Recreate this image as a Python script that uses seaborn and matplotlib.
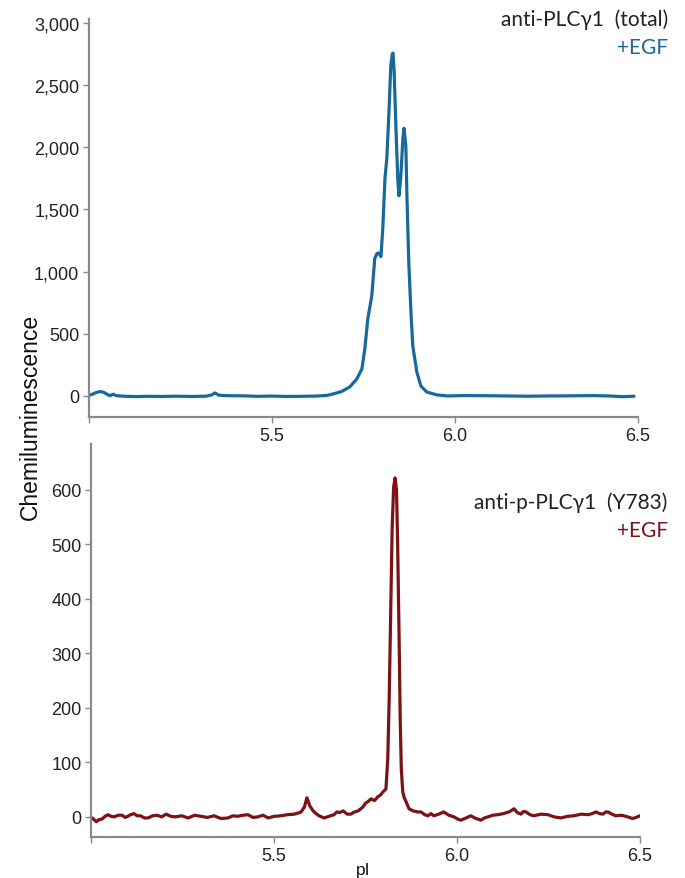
import matplotlib
matplotlib.use("Agg")
import matplotlib.pyplot as plt
import matplotlib.ticker as mticker
import seaborn as sns

# top trace: anti-PLCg1 (total), +EGF
total_pi = [5.000, 5.010, 5.020, 5.030, 5.040, 5.050, 5.057, 5.066, 5.075, 5.100,
            5.130, 5.160, 5.200, 5.240, 5.280, 5.320, 5.335, 5.344, 5.355, 5.380,
            5.420, 5.460, 5.500, 5.540, 5.580, 5.620, 5.650, 5.667, 5.690, 5.713,
            5.732, 5.746, 5.754, 5.762, 5.773, 5.781, 5.787, 5.792, 5.798, 5.803,
            5.809, 5.814, 5.820, 5.825, 5.829, 5.831, 5.834, 5.839, 5.844, 5.847,
            5.852, 5.858, 5.861, 5.866, 5.869, 5.874, 5.880, 5.885, 5.896, 5.907,
            5.923, 5.951, 5.980, 6.020, 6.080, 6.140, 6.200, 6.260, 6.320, 6.380,
            6.420, 6.460, 6.490]
total_signal = [5, 15, 28, 35, 30, 12, 2, 14, 2, -3,
                -5, -3, -4, -2, -4, -2, 8, 24, 6, 2,
                1, -3, -1, -4, -3, -1, 4, 16, 35, 73,
                137, 218, 380, 620, 806, 1105, 1145, 1150, 1120, 1347,
                1750, 1911, 2290, 2661, 2750, 2758, 2613, 2153, 1750, 1610,
                1750, 2073, 2153, 2016, 1613, 1080, 677, 403, 194, 81,
                32, 8, 0, 3, 2, 0, -2, 0, 1, 3,
                0, -6, -2]

# bottom trace: anti-p-PLCg1 (Y783), +EGF
phospho_pi = [5.003, 5.008, 5.014, 5.022, 5.030, 5.038, 5.046, 5.055, 5.063, 5.074,
              5.085, 5.093, 5.100, 5.108, 5.117, 5.126, 5.135, 5.146, 5.156, 5.168,
              5.180, 5.193, 5.205, 5.218, 5.230, 5.248, 5.265, 5.283, 5.300, 5.318,
              5.336, 5.355, 5.374, 5.388, 5.400, 5.415, 5.429, 5.442, 5.455, 5.470,
              5.484, 5.500, 5.519, 5.537, 5.555, 5.566, 5.574, 5.583, 5.590, 5.598,
              5.607, 5.615, 5.623, 5.630, 5.637, 5.650, 5.664, 5.672, 5.680, 5.689,
              5.700, 5.710, 5.720, 5.730, 5.743, 5.750, 5.757, 5.765, 5.775, 5.784,
              5.791, 5.798, 5.806, 5.811, 5.815, 5.819, 5.823, 5.827, 5.831, 5.835,
              5.838, 5.842, 5.845, 5.848, 5.852, 5.856, 5.861, 5.869, 5.880, 5.893,
              5.902, 5.912, 5.921, 5.929, 5.937, 5.950, 5.964, 5.978, 5.992, 6.002,
              6.011, 6.025, 6.038, 6.052, 6.066, 6.075, 6.085, 6.098, 6.112, 6.127,
              6.142, 6.150, 6.156, 6.165, 6.175, 6.182, 6.189, 6.200, 6.210, 6.230,
              6.249, 6.266, 6.284, 6.302, 6.320, 6.340, 6.358, 6.370, 6.380, 6.390,
              6.399, 6.407, 6.413, 6.424, 6.434, 6.450, 6.467, 6.480, 6.490, 6.500]
phospho_signal = [-2, -5, -9, -5, -4, 1, 4, 1, 0, 3,
                  3, -1, 1, 4, 6, 2, 2, -2, -2, 2,
                  3, 0, 5, 1, 0, 2, -2, 3, 1, -1,
                  2, -3, -2, 2, 1, 3, 4, -1, 0, 3,
                  -2, 1, 2, 4, 5, 7, 9, 18, 35, 20,
                  11, 6, 2, 0, -2, 1, 4, 9, 8, 11,
                  5, 5, 9, 11, 18, 25, 28, 33, 30, 37,
                  40, 46, 51, 106, 220, 380, 530, 605, 622, 600,
                  500, 330, 180, 88, 46, 35, 28, 15, 11, 9,
                  9, 4, 2, 6, 2, 5, 9, 3, 0, -4,
                  -6, -2, 2, -3, -6, -2, 0, 3, 4, 6,
                  9, 12, 15, 8, 5, 10, 9, 4, 2, 5,
                  4, 0, -2, 1, 2, 5, 4, 6, 9, 6,
                  5, 9, 9, 5, 2, 3, 0, -3, -1, 2]

x_ticks = [5.0, 5.5, 6.0, 6.5]
x_tick_labels = ["", "5.5", "6.0", "6.5"]
top_y_ticks = [0, 500, 1000, 1500, 2000, 2500, 3000]
bottom_y_ticks = [0, 100, 200, 300, 400, 500, 600]

blue = "#17699a"
maroon = "#7b1215"
spine_grey = "#8a8a8a"

sns.set_style("white")
plt.rcParams["font.family"] = ["Liberation Sans", "DejaVu Sans"]

fig = plt.figure(figsize=(6.85, 8.79), dpi=100)
ax1 = fig.add_axes([0.130, 0.5245, 0.801, 0.4528])
ax2 = fig.add_axes([0.133, 0.0466, 0.801, 0.4470])

sns.lineplot(x=total_pi, y=total_signal, ax=ax1, color=blue, linewidth=2.3, estimator=None)
sns.lineplot(x=phospho_pi, y=phospho_signal, ax=ax2, color=maroon, linewidth=2.3, estimator=None)

ax1.set_ylim(-169, 3032)
ax2.set_ylim(-37, 684)
ax1.set_yticks(top_y_ticks)
ax2.set_yticks(bottom_y_ticks)
ax1.yaxis.set_major_formatter(mticker.StrMethodFormatter("{x:,.0f}"))

for ax in (ax1, ax2):
    ax.set_xlim(5.0, 6.5)
    ax.set_xticks(x_ticks)
    ax.set_xticklabels(x_tick_labels)
    for side in ("top", "right"):
        ax.spines[side].set_visible(False)
    for side in ("left", "bottom"):
        ax.spines[side].set_color(spine_grey)
        ax.spines[side].set_linewidth(1.6)
    ax.tick_params(axis="both", which="major", direction="out", length=4, width=1,
                   color=spine_grey, labelsize=13, labelcolor="#222222", pad=3,
                   left=True, bottom=True)
    ax.set_xlabel("")
    ax.set_ylabel("")

ann_font = ["Lato", "DejaVu Sans"]
ann_x = 0.975
fig.text(ann_x, 1 - 20 / 879, "anti-PLCγ1  (total)", ha="right", va="center",
         fontsize=15, color="#222222", family=ann_font)
fig.text(ann_x, 1 - 48 / 879, "+EGF", ha="right", va="center",
         fontsize=15, color=blue, family=ann_font)
fig.text(ann_x, 1 - 503 / 879, "anti-p-PLCγ1  (Y783)", ha="right", va="center",
         fontsize=15, color="#222222", family=ann_font)
fig.text(ann_x, 1 - 531 / 879, "+EGF", ha="right", va="center",
         fontsize=15, color=maroon, family=ann_font)

fig.text(0.044, 0.526, "Chemiluminescence", rotation=90, ha="center", va="center",
         fontsize=16.5, color="#111111")
fig.text(0.530, 0.010, "pI", ha="center", va="center", fontsize=12.5, color="#111111")

fig.savefig("out.png", dpi=100)
